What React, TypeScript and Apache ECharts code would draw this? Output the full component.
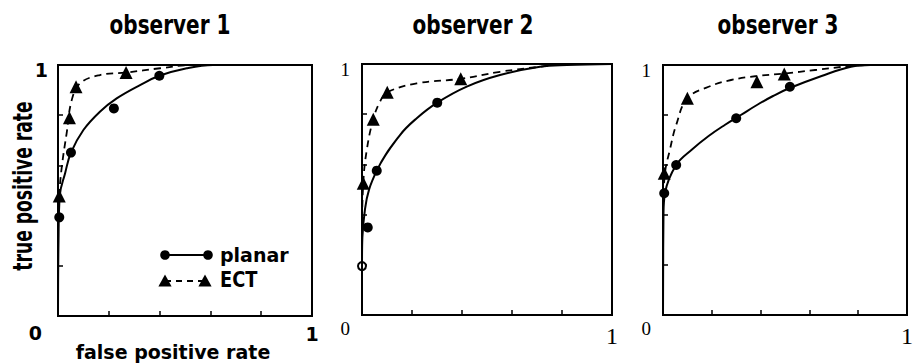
import React, { useEffect, useRef } from 'react';
import * as echarts from 'echarts';

// ---- data ----
const panelTitles = ['observer 1', 'observer 2', 'observer 3'];
const xAxisTitle = 'false positive rate';
const yAxisTitle = 'true positive rate';
const legendNames = ['planar', 'ECT'];

const obs1PlanarPoints = [[0.005, 0.393], [0.051, 0.651], [0.22, 0.827], [0.399, 0.957]];
const obs1EctPoints = [[0.005, 0.478], [0.045, 0.79], [0.071, 0.913], [0.268, 0.97]];
const obs1PlanarCurve = [[0, 0], [0.002, 0.3], [0.007, 0.48], [0.028, 0.569], [0.051, 0.651], [0.1, 0.741], [0.165, 0.814], [0.231, 0.867], [0.323, 0.92], [0.399, 0.957], [0.507, 0.987], [0.61, 1], [1, 1]];
const obs1EctCurve = [[0, 0], [0, 0.3], [0.005, 0.478], [0.015, 0.595], [0.034, 0.728], [0.054, 0.86], [0.087, 0.927], [0.165, 0.96], [0.268, 0.97], [0.402, 0.987], [0.53, 1], [1, 1]];

const obs2PlanarPoints = [[0, 0.195], [0.023, 0.349], [0.059, 0.575], [0.301, 0.846]];
const obs2EctPoints = [[0.005, 0.525], [0.045, 0.78], [0.101, 0.887], [0.395, 0.941]];
const obs2PlanarCurve = [[0, 0], [0, 0.195], [0.012, 0.422], [0.059, 0.575], [0.152, 0.717], [0.219, 0.784], [0.301, 0.846], [0.419, 0.91], [0.552, 0.956], [0.712, 0.989], [0.82, 0.996], [1, 1]];
const obs2EctCurve = [[0, 0], [0, 0.3], [0.005, 0.525], [0.019, 0.657], [0.045, 0.78], [0.072, 0.85], [0.101, 0.887], [0.219, 0.923], [0.395, 0.941], [0.552, 0.969], [0.712, 0.989], [0.82, 1], [1, 1]];

const obs3PlanarPoints = [[0.005, 0.487], [0.054, 0.6], [0.3, 0.787], [0.52, 0.913]];
const obs3EctPoints = [[0.005, 0.567], [0.1, 0.867], [0.385, 0.933], [0.497, 0.964]];
const obs3PlanarCurve = [[0, 0], [0.002, 0.4], [0.008, 0.487], [0.054, 0.6], [0.12, 0.663], [0.187, 0.716], [0.253, 0.76], [0.319, 0.8], [0.385, 0.84], [0.451, 0.876], [0.517, 0.907], [0.65, 0.956], [0.77, 0.993], [0.85, 1], [1, 1]];
const obs3EctCurve = [[0, 0], [0, 0.4], [0.008, 0.567], [0.028, 0.66], [0.054, 0.76], [0.1, 0.867], [0.187, 0.913], [0.279, 0.94], [0.385, 0.956], [0.497, 0.966], [0.623, 0.98], [0.77, 0.996], [0.85, 1], [1, 1]];

const planarPoints = [obs1PlanarPoints, obs2PlanarPoints, obs3PlanarPoints];
const ectPoints = [obs1EctPoints, obs2EctPoints, obs3EctPoints];
const planarCurves = [obs1PlanarCurve, obs2PlanarCurve, obs3PlanarCurve];
const ectCurves = [obs1EctCurve, obs2EctCurve, obs3EctCurve];
// the lowest planar point of observer 2 is drawn as an open circle
const openPlanarPoint = { panel: 1, index: 0 };

// ---- layout ----
const grids = [
  { left: 58, top: 65, width: 254, height: 251 },
  { left: 362, top: 64, width: 250, height: 251 },
  { left: 663, top: 65, width: 252, height: 250 },
];
const SANS = '"DejaVu Sans", "Liberation Sans", sans-serif';
const SERIF = '"Liberation Serif", "DejaVu Serif", serif';

function buildOption() {
  const isOne = (v: number) => Math.abs(v - 1) < 1e-6;
  const isZero = (v: number) => Math.abs(v) < 1e-6;

  const xAxis = grids.map((_, i) => {
    const sans = i === 0;
    return {
      type: 'value', gridIndex: i, min: 0, max: 1, interval: 0.2,
      axisLine: { show: true, onZero: false, lineStyle: { color: '#000', width: 2 } },
      axisTick: { show: true, inside: true, length: 5, lineStyle: { color: '#000', width: 1.5 } },
      splitLine: { show: false },
      axisLabel: {
        formatter: (v: number) => (isOne(v) ? '1' : ''),
        margin: sans ? 8 : 9,
        color: '#000',
        fontFamily: sans ? SANS : SERIF,
        fontWeight: sans ? 'bold' : 'normal',
        fontSize: sans ? 19 : 24,
        showMinLabel: true, showMaxLabel: true,
      },
    };
  });

  const yAxis = grids.map((_, i) => {
    const sans = i === 0;
    const base = {
      color: '#000',
      fontFamily: sans ? SANS : SERIF,
      fontWeight: sans ? 'bold' : 'normal',
      fontSize: 19,
    };
    return {
      type: 'value', gridIndex: i, min: 0, max: 1, interval: 0.2,
      axisLine: { show: true, onZero: false, lineStyle: { color: '#000', width: 2 } },
      axisTick: { show: true, inside: true, length: 5, lineStyle: { color: '#000', width: 1.5 } },
      splitLine: { show: false },
      axisLabel: {
        formatter: (v: number) => (isZero(v) ? '{z|0}' : isOne(v) ? '{o|1}' : ''),
        margin: sans ? 10 : 12,
        showMinLabel: true, showMaxLabel: true,
        rich: {
          z: { ...base, padding: [sans ? 34 : 26, sans ? 6 : 0, 0, 0] },
          o: { ...base, padding: [10, 0, 0, 0] },
        },
      },
    };
  });

  const series: any[] = [];
  grids.forEach((_, i) => {
    series.push({
      type: 'line', xAxisIndex: i, yAxisIndex: i, data: planarCurves[i],
      smooth: 0.4, symbol: 'none', silent: true,
      lineStyle: { color: '#000', width: 2 },
    });
    series.push({
      type: 'line', xAxisIndex: i, yAxisIndex: i, data: ectCurves[i],
      smooth: 0.4, symbol: 'none', silent: true,
      lineStyle: { color: '#000', width: 1.8, type: [7, 5] },
    });
  });
  grids.forEach((_, i) => {
    series.push({
      type: 'scatter', xAxisIndex: i, yAxisIndex: i, symbol: 'circle', symbolSize: 10,
      itemStyle: { color: '#000', opacity: 1 }, silent: true,
      data: planarPoints[i].map((p, k) =>
        i === openPlanarPoint.panel && k === openPlanarPoint.index
          ? { value: p, symbolSize: 8, itemStyle: { color: '#fff', borderColor: '#000', borderWidth: 2, opacity: 1 } }
          : { value: p }
      ),
    });
    series.push({
      type: 'scatter', xAxisIndex: i, yAxisIndex: i, symbol: 'triangle', symbolSize: 13,
      itemStyle: { color: '#000', opacity: 1 }, silent: true,
      data: ectPoints[i],
    });
  });

  const titleCenters = [170, 473, 778];
  const graphic: any[] = [];
  panelTitles.forEach((t, i) => {
    graphic.push({
      type: 'text', x: titleCenters[i], y: 24, scaleX: 0.77, silent: true,
      style: { text: t, fill: '#000', font: `bold 26px ${SANS}`, textAlign: 'center', textVerticalAlign: 'middle' },
    });
  });
  graphic.push({
    type: 'text', x: 23, y: 186, rotation: Math.PI / 2, scaleX: 0.66, silent: true,
    style: { text: yAxisTitle, fill: '#000', font: `bold 26px ${SANS}`, textAlign: 'center', textVerticalAlign: 'middle' },
  });
  graphic.push({
    type: 'text', x: 173, y: 352, scaleX: 1.0, silent: true,
    style: { text: xAxisTitle, fill: '#000', font: `bold 19px ${SANS}`, textAlign: 'center', textVerticalAlign: 'middle' },
  });
  // legend (inside observer 1 panel)
  const tri = (cx: number, cy: number, s: number) => [[cx, cy - s * 0.55], [cx + s * 0.55, cy + s * 0.45], [cx - s * 0.55, cy + s * 0.45]];
  graphic.push(
    { type: 'line', silent: true, shape: { x1: 165, y1: 255, x2: 208, y2: 255 }, style: { stroke: '#000', lineWidth: 2 } },
    { type: 'circle', silent: true, shape: { cx: 165, cy: 255, r: 4.8 }, style: { fill: '#000' } },
    { type: 'circle', silent: true, shape: { cx: 208, cy: 255, r: 4.8 }, style: { fill: '#000' } },
    { type: 'line', silent: true, shape: { x1: 165, y1: 281, x2: 205, y2: 281 }, style: { stroke: '#000', lineWidth: 2, lineDash: [6, 5] } },
    { type: 'polygon', silent: true, shape: { points: tri(165, 281, 12) }, style: { fill: '#000' } },
    { type: 'polygon', silent: true, shape: { points: tri(205, 281, 12) }, style: { fill: '#000' } },
    {
      type: 'text', x: 220, y: 255, silent: true,
      style: { text: legendNames[0], fill: '#000', font: `bold 19px ${SANS}`, textAlign: 'left', textVerticalAlign: 'middle' },
    },
    {
      type: 'text', x: 220, y: 280, scaleX: 0.85, silent: true,
      style: { text: legendNames[1], fill: '#000', font: `bold 21px ${SANS}`, textAlign: 'left', textVerticalAlign: 'middle' },
    },
  );

  return {
    animation: false,
    backgroundColor: '#fff',
    grid: grids.map((g) => ({ ...g, show: true, borderColor: '#000', borderWidth: 2, backgroundColor: 'transparent', containLabel: false })),
    xAxis,
    yAxis,
    series,
    graphic,
  };
}

export default function App() {
  const ref = useRef<HTMLDivElement>(null);
  useEffect(() => {
    if (!ref.current) return;
    const chart = echarts.init(ref.current, undefined, { renderer: 'svg' });
    chart.setOption(buildOption() as any);
    return () => chart.dispose();
  }, []);
  return (
    <div
      ref={ref}
      style={{ position: 'fixed', left: 0, top: 0, width: 916, height: 364, background: '#fff' }}
    />
  );
}
